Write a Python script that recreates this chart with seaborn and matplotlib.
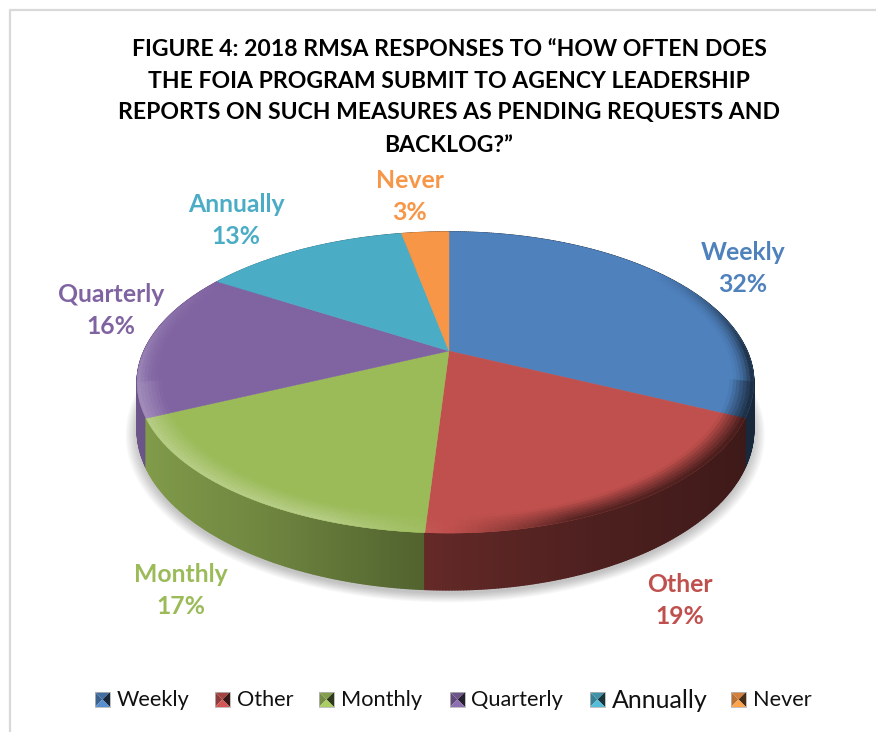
import numpy as np
import seaborn as sns
import matplotlib.pyplot as plt
from matplotlib.collections import PolyCollection

categories = ['Weekly', 'Other', 'Monthly', 'Quarterly', 'Annually', 'Never']
values = [32, 19, 17, 16, 13, 3]
colors = ['#4f81bd', '#c0504d', '#9bbb59', '#8064a2', '#4bacc6', '#f79646']
title_lines = ['FIGURE 4: 2018 RMSA RESPONSES TO “HOW OFTEN DOES',
               'THE FOIA PROGRAM SUBMIT TO AGENCY LEADERSHIP',
               'REPORTS ON SUCH MEASURES AS PENDING REQUESTS AND',
               'BACKLOG?”']

sns.set_theme(style='white')
plt.rcParams['font.family'] = ['Lato', 'DejaVu Sans']
palette = np.array(sns.color_palette(colors))

# fake 3d: tilted disc with a bit of perspective, axes are in pixels
CX, CY, RX_L, RX_R, RY, PERSP, DEPTH = 449, 351, 305, 298, 144, 0.209, 45


def project(angle, r=1.0, drop=0.0):
    u, v = r * np.sin(angle), r * np.cos(angle)
    w = 1 + PERSP * v
    return CX + np.where(u < 0, RX_L, RX_R) * u / w, CY - RY * v / w + drop / w


def side_factor(u):
    return np.interp(u, [-1, -0.5, 0, 0.4, 1], [0.86, 0.72, 0.50, 0.40, 0.30])


fig = plt.figure(figsize=(8.76, 7.32), dpi=100)
ax = fig.add_axes([0, 0, 1, 1])
ax.set_xlim(0, 876)
ax.set_ylim(732, 0)
ax.axis('off')

# chart frame
ax.plot([10, 10, 876], [732, 10, 10], color='#d9d9d9', lw=1.6)

# soft shadow under the disc
t = np.linspace(0, 2 * np.pi, 240)
for grow in np.linspace(1.035, 1.0, 9):
    sx, sy = project(t, grow, DEPTH + 3)
    ax.fill(sx, sy, color='black', alpha=0.028, lw=0)

edges = np.cumsum([0] + values) / sum(values) * 2 * np.pi

# side wall, back to front
quads, quad_cols, depth_key = [], [], []
for i in range(len(values)):
    a = np.linspace(edges[i], edges[i + 1], int(values[i]) * 8 + 2)
    for a0, a1 in zip(a[:-1], a[1:]):
        x0, y0 = project(a0)
        x1, y1 = project(a1)
        x2, y2 = project(a1, 1, DEPTH)
        x3, y3 = project(a0, 1, DEPTH)
        quads.append([(x0, y0), (x1, y1), (x2, y2), (x3, y3)])
        mid = (a0 + a1) / 2
        quad_cols.append(palette[i] * side_factor(np.sin(mid)))
        depth_key.append(np.cos(mid))
order = np.argsort(depth_key)[::-1]
ax.add_collection(PolyCollection([quads[j] for j in order],
                                 facecolors=[quad_cols[j] for j in order],
                                 edgecolors='face', linewidths=1.0))

# top face
for i in range(len(values)):
    a = np.linspace(edges[i], edges[i + 1], int(values[i]) * 4 + 2)
    xs, ys = project(a)
    ax.fill(np.r_[CX, xs], np.r_[CY, ys], color=palette[i], lw=0.3)

# rim bevel: lighter towards the left, darker on the right
rings = np.linspace(0.925, 1.0, 8)
for i in range(len(values)):
    a = np.linspace(edges[i], edges[i + 1], int(values[i]) * 4 + 2)
    polys, cols = [], []
    for r0, r1 in zip(rings[:-1], rings[1:]):
        mix = ((r0 + r1) / 2 - rings[0]) / (rings[-1] - rings[0])
        for a0, a1 in zip(a[:-1], a[1:]):
            p0, p1 = project(a0, r0), project(a1, r0)
            p2, p3 = project(a1, r1), project(a0, r1)
            polys.append([p0, p1, p2, p3])
            m = (a0 + a1) / 2
            u, v = np.sin(m), np.cos(m)
            if u < 0:
                strength = 0.28 * np.clip(0.7 - 1.3 * v, 0, 1) * np.clip(-u * 3, 0, 1)
                target = palette[i] + (1 - palette[i]) * strength
            else:
                target = palette[i] * side_factor(u)
                target = palette[i] + (target - palette[i]) * np.clip(1 - v * 1.6, 0, 1) * np.clip(u * 3, 0, 1)
            weight = mix ** 2 if v > -0.2 else mix
            cols.append(np.clip(palette[i] + (target - palette[i]) * weight, 0, 1))
    ax.add_collection(PolyCollection(polys, facecolors=cols, edgecolors='face', linewidths=0.3))

# title
for line, y in zip(title_lines, [49, 82, 113, 146]):
    ax.text(449, y, line, ha='center', va='center', fontsize=16.6, fontweight='bold', color='black')

# data labels
label_pos = [(743, 252), (680, 585), (181, 574), (111, 295), (236, 204), (410, 181)]
for (lx, ly), name, val, col in zip(label_pos, categories, values, palette):
    ax.text(lx, ly, name, ha='center', va='center', fontsize=17.8, fontweight='bold', color=col)
    ax.text(lx, ly + 32, f'{val}%', ha='center', va='center', fontsize=17.8, fontweight='bold', color=col)

# legend with the little pyramid keys
key_x = [95, 215, 319, 450, 590, 731]
text_x = [117, 237, 341, 471, 612, 753]
text_size = [15.6, 15.6, 15.7, 15.7, 18, 15.6]
ky, ks = 692, 15
for kx, tx, fs, name, col in zip(key_x, text_x, text_size, categories, palette):
    c = (kx + ks / 2, ky + ks / 2)
    tl, tr, br, bl = (kx, ky), (kx + ks, ky), (kx + ks, ky + ks), (kx, ky + ks)
    for tri, f in [((tl, tr), 0.85), ((tl, bl), 0.75), ((tr, br), 0.3), ((bl, br), 1.1)]:
        ax.fill([tri[0][0], tri[1][0], c[0]], [tri[0][1], tri[1][1], c[1]],
                color=np.clip(col * f, 0, 1), lw=0)
    ax.plot([kx, kx + ks, kx + ks, kx, kx], [ky, ky, ky + ks, ky + ks, ky], color='#b5b5b5', lw=0.6)
    ax.text(tx, ky + 8, name, ha='left', va='center', fontsize=fs, color='#111111')

plt.savefig('out.png', dpi=100)
plt.close()
